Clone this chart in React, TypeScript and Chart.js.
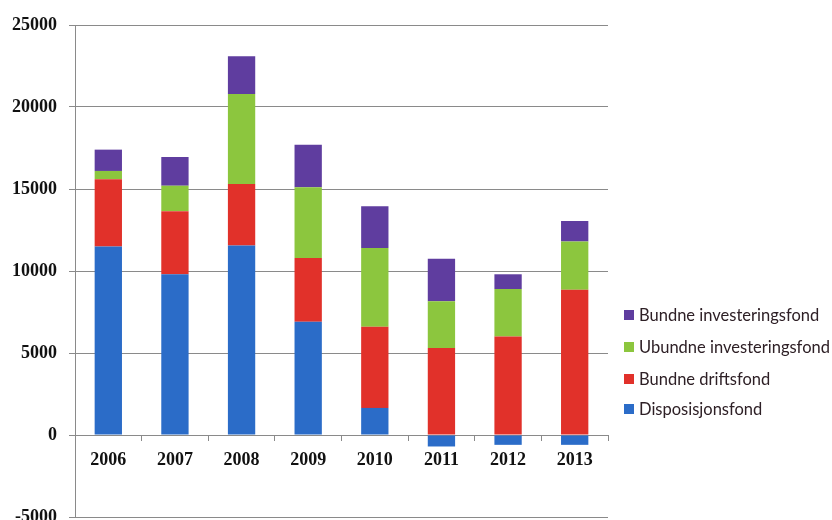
import React, { useEffect, useRef } from "react";
import { Chart, registerables } from "chart.js";

Chart.register(...registerables);

const years = ["2006", "2007", "2008", "2009", "2010", "2011", "2012", "2013"];
const disposisjonsfond = [11500, 9800, 11550, 6900, 1650, -700, -600, -600];
const bundneDriftsfond = [4100, 3850, 3750, 3900, 4950, 5300, 6000, 8850];
const ubundneInvesteringsfond = [500, 1550, 5500, 4300, 4800, 2850, 2900, 2950];
const bundneInvesteringsfond = [1300, 1750, 2300, 2600, 2550, 2600, 900, 1250];
const yMin = -5000;
const yMax = 25000;
const yStep = 5000;

const seriesNames = [
  "Disposisjonsfond",
  "Bundne driftsfond",
  "Ubundne investeringsfond",
  "Bundne investeringsfond",
];
const seriesColors = ["#2b6cc8", "#e1312a", "#8cc63e", "#5f3d9f"];

export default function App() {
  const ref = useRef<HTMLCanvasElement | null>(null);

  useEffect(() => {
    if (!ref.current) return;
    const values = [disposisjonsfond, bundneDriftsfond, ubundneInvesteringsfond, bundneInvesteringsfond];
    const chart = new Chart(ref.current, {
      type: "bar",
      data: {
        labels: years,
        datasets: values.map((v, i) => ({
          label: seriesNames[i],
          data: v,
          backgroundColor: seriesColors[i],
          borderWidth: 0,
          barPercentage: 0.41,
          categoryPercentage: 1,
        })),
      },
      options: {
        responsive: false,
        animation: false,
        devicePixelRatio: 1,
        layout: {
          autoPadding: false,
          padding: { left: 0, right: 224, top: 25, bottom: 3 },
        },
        plugins: {
          legend: { display: false },
          tooltip: { enabled: false },
        },
        scales: {
          x: {
            stacked: true,
            position: { y: 0 } as any,
            afterFit: (s: any) => {
              s.paddingTop = 0;
              s.paddingBottom = 0;
            },
            grid: {
              display: true,
              drawOnChartArea: false,
              drawTicks: true,
              tickLength: 5,
              color: "#8a8a8a",
            },
            border: { display: true, color: "#8a8a8a" },
            ticks: {
              font: { family: "'Liberation Serif', serif", size: 18, weight: "bold" },
              color: "#111",
              padding: 10,
            },
          },
          y: {
            stacked: true,
            min: yMin,
            max: yMax,
            afterFit: (s: any) => {
              s.width = 75;
              s.paddingTop = 0;
              s.paddingBottom = 0;
            },
            ticks: {
              stepSize: yStep,
              font: { family: "'Liberation Serif', serif", size: 18, weight: "bold" },
              color: "#111",
              padding: 12,
              callback: (v: any) => String(v),
            },
            grid: { color: "#8a8a8a", tickLength: 6, lineWidth: 1 },
            border: { display: true, color: "#8a8a8a" },
          },
        },
      },
    });
    return () => chart.destroy();
  }, []);

  const legendOrder = [3, 2, 1, 0];
  const legendY = [315, 347, 379, 409];

  return (
    <div style={{ position: "fixed", left: 0, top: 0, width: 832, height: 520, background: "#fff", overflow: "hidden" }}>
      <canvas ref={ref} width={832} height={520} style={{ display: "block" }} />
      {legendOrder.map((idx, k) => (
        <div
          key={idx}
          style={{
            position: "absolute",
            left: 624,
            top: legendY[k] - 10,
            height: 20,
            display: "flex",
            alignItems: "center",
            fontFamily: "Lato, sans-serif",
            fontSize: 16.5,
            color: "#2e2026",
            whiteSpace: "nowrap",
          }}
        >
          <span style={{ width: 10, height: 10, background: seriesColors[idx], marginRight: 5, display: "inline-block" }} />
          <span>{seriesNames[idx]}</span>
        </div>
      ))}
    </div>
  );
}
